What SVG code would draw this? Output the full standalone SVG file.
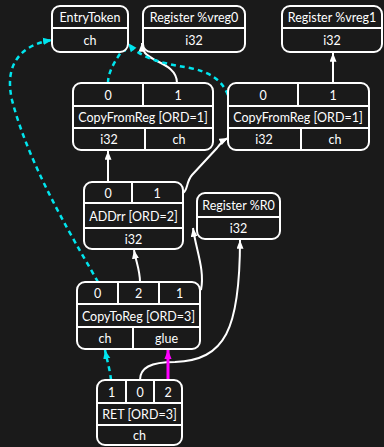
<svg xmlns="http://www.w3.org/2000/svg" width="384" height="447" viewBox="0 0 384 447">
  <style>
    .box { fill: #1a1a1a; stroke: #ffffff; stroke-width: 2; }
    .div { stroke: #ffffff; stroke-width: 2; }
    .t { fill: #ffffff; font-family: Lato, "Open Sans", sans-serif; font-size: 12.5px; text-anchor: middle; }
    .w { fill: none; stroke: #ffffff; stroke-width: 2; marker-end: url(#aw); }
    .c { fill: none; stroke: #00e5ee; stroke-width: 2.5; stroke-dasharray: 5 4; marker-end: url(#ac); }
    .m { fill: none; stroke: #ff00ff; stroke-width: 3; marker-end: url(#am); }
  </style>
  <defs>
    <marker id="aw" viewBox="0 0 10 8" refX="10" refY="4" markerWidth="9" markerHeight="7" markerUnits="userSpaceOnUse" orient="auto">
      <path d="M0,0 L10,4 L0,8 z" fill="#ffffff"/>
    </marker>
    <marker id="ac" viewBox="0 0 10 8" refX="10" refY="4" markerWidth="9" markerHeight="8" markerUnits="userSpaceOnUse" orient="auto">
      <path d="M0,0 L10,4 L0,8 z" fill="#00e5ee"/>
    </marker>
    <marker id="am" viewBox="0 0 10 8" refX="10" refY="4" markerWidth="9" markerHeight="8" markerUnits="userSpaceOnUse" orient="auto">
      <path d="M0,0 L10,4 L0,8 z" fill="#ff00ff"/>
    </marker>
  </defs>
  <rect width="384" height="447" fill="#1a1a1a"/>

  <!-- connectors -->
  <g id="edges">
    <path class="c" d="M108,83 C108,70 118,56 128,43"/>
    <path class="w" d="M177,83 C177,70 165,65 155,60 C146,55 142,52 142,43"/>
    <path class="c" d="M228,95 C222,80 210,72 190,68 C160,63 140,58 128,43"/>
    <path class="w" d="M333,83 L333,53"/>
    <path class="w" d="M108,182 L108,151"/>
    <path class="w" d="M183,193 C188,190 186,182 192,175 L217,148 C220,144 224,140 228,138"/>
    <path class="c" d="M98,282 C80,250 30,170 12,100 C4,65 20,45 52,40"/>
    <path class="w" d="M140,282 C140,270 136,262 134,250"/>
    <path class="w" d="M201,290 C205,270 196,250 193,228"/>
    <path class="w" d="M140,380 C140,368 150,362 175,362 C225,360 240,330 240,240"/>
    <path class="m" d="M168,380 L168,350"/>
    <path class="c" d="M111,380 C110,370 107,360 105,350"/>
  </g>

  <g id="entrytoken">
    <rect class="box" x="52" y="6" width="76" height="46" rx="8"/>
    <line class="div" x1="52" y1="28" x2="128" y2="28"/>
    <text class="t" x="90" y="21.5">EntryToken</text>
    <text class="t" x="90" y="44.5">ch</text>
  </g>

  <g id="vreg0">
    <rect class="box" x="143" y="6" width="102" height="46" rx="8"/>
    <line class="div" x1="143" y1="28" x2="245" y2="28"/>
    <text class="t" x="194" y="21.5">Register %vreg0</text>
    <text class="t" x="194" y="44.5">i32</text>
  </g>

  <g id="vreg1">
    <rect class="box" x="282" y="6" width="100" height="46" rx="8"/>
    <line class="div" x1="282" y1="28" x2="382" y2="28"/>
    <text class="t" x="332" y="21.5">Register %vreg1</text>
    <text class="t" x="332" y="44.5">i32</text>
  </g>

  <g id="copyfromreg0">
    <rect class="box" x="73" y="83" width="140" height="67" rx="8"/>
    <line class="div" x1="73" y1="106" x2="213" y2="106"/>
    <line class="div" x1="73" y1="128" x2="213" y2="128"/>
    <line class="div" x1="143" y1="83" x2="143" y2="106"/>
    <line class="div" x1="145" y1="128" x2="145" y2="150"/>
    <text class="t" x="108" y="99.5">0</text>
    <text class="t" x="178" y="99.5">1</text>
    <text class="t" x="143" y="121.5">CopyFromReg [ORD=1]</text>
    <text class="t" x="109" y="143.5">i32</text>
    <text class="t" x="179" y="143.5">ch</text>
  </g>

  <g id="copyfromreg1">
    <rect class="box" x="228" y="83" width="141" height="67" rx="8"/>
    <line class="div" x1="228" y1="106" x2="369" y2="106"/>
    <line class="div" x1="228" y1="128" x2="369" y2="128"/>
    <line class="div" x1="298" y1="83" x2="298" y2="106"/>
    <line class="div" x1="301" y1="128" x2="301" y2="150"/>
    <text class="t" x="263" y="99.5">0</text>
    <text class="t" x="333" y="99.5">1</text>
    <text class="t" x="298" y="121.5">CopyFromReg [ORD=1]</text>
    <text class="t" x="264" y="143.5">i32</text>
    <text class="t" x="335" y="143.5">ch</text>
  </g>

  <g id="addrr">
    <rect class="box" x="84" y="182" width="99" height="67" rx="8"/>
    <line class="div" x1="84" y1="203" x2="183" y2="203"/>
    <line class="div" x1="84" y1="228" x2="183" y2="228"/>
    <line class="div" x1="132" y1="182" x2="132" y2="203"/>
    <text class="t" x="108" y="197.5">0</text>
    <text class="t" x="157" y="197.5">1</text>
    <text class="t" x="133.5" y="220.5">ADDrr [ORD=2]</text>
    <text class="t" x="133.5" y="243.5">i32</text>
  </g>

  <g id="reg-r0">
    <rect class="box" x="197" y="193" width="83" height="46" rx="8"/>
    <line class="div" x1="197" y1="217" x2="280" y2="217"/>
    <text class="t" x="238.5" y="209.5">Register %R0</text>
    <text class="t" x="238.5" y="232.5">i32</text>
  </g>

  <g id="copytoreg">
    <rect class="box" x="77" y="282" width="123" height="67" rx="8"/>
    <line class="div" x1="77" y1="304" x2="200" y2="304"/>
    <line class="div" x1="77" y1="327" x2="200" y2="327"/>
    <line class="div" x1="118" y1="282" x2="118" y2="304"/>
    <line class="div" x1="159" y1="282" x2="159" y2="304"/>
    <line class="div" x1="133" y1="327" x2="133" y2="349"/>
    <text class="t" x="97.5" y="297.5">0</text>
    <text class="t" x="138.5" y="297.5">2</text>
    <text class="t" x="179.5" y="297.5">1</text>
    <text class="t" x="138.5" y="320.5">CopyToReg [ORD=3]</text>
    <text class="t" x="105" y="342.5">ch</text>
    <text class="t" x="166.5" y="342.5">glue</text>
  </g>

  <g id="ret">
    <rect class="box" x="97" y="380" width="85" height="65" rx="8"/>
    <line class="div" x1="97" y1="403" x2="182" y2="403"/>
    <line class="div" x1="97" y1="425" x2="182" y2="425"/>
    <line class="div" x1="126" y1="380" x2="126" y2="403"/>
    <line class="div" x1="154" y1="380" x2="154" y2="403"/>
    <text class="t" x="111.5" y="396.5">1</text>
    <text class="t" x="140" y="396.5">0</text>
    <text class="t" x="168" y="396.5">2</text>
    <text class="t" x="139.5" y="418.5">RET [ORD=3]</text>
    <text class="t" x="139.5" y="439.5">ch</text>
  </g>
</svg>
